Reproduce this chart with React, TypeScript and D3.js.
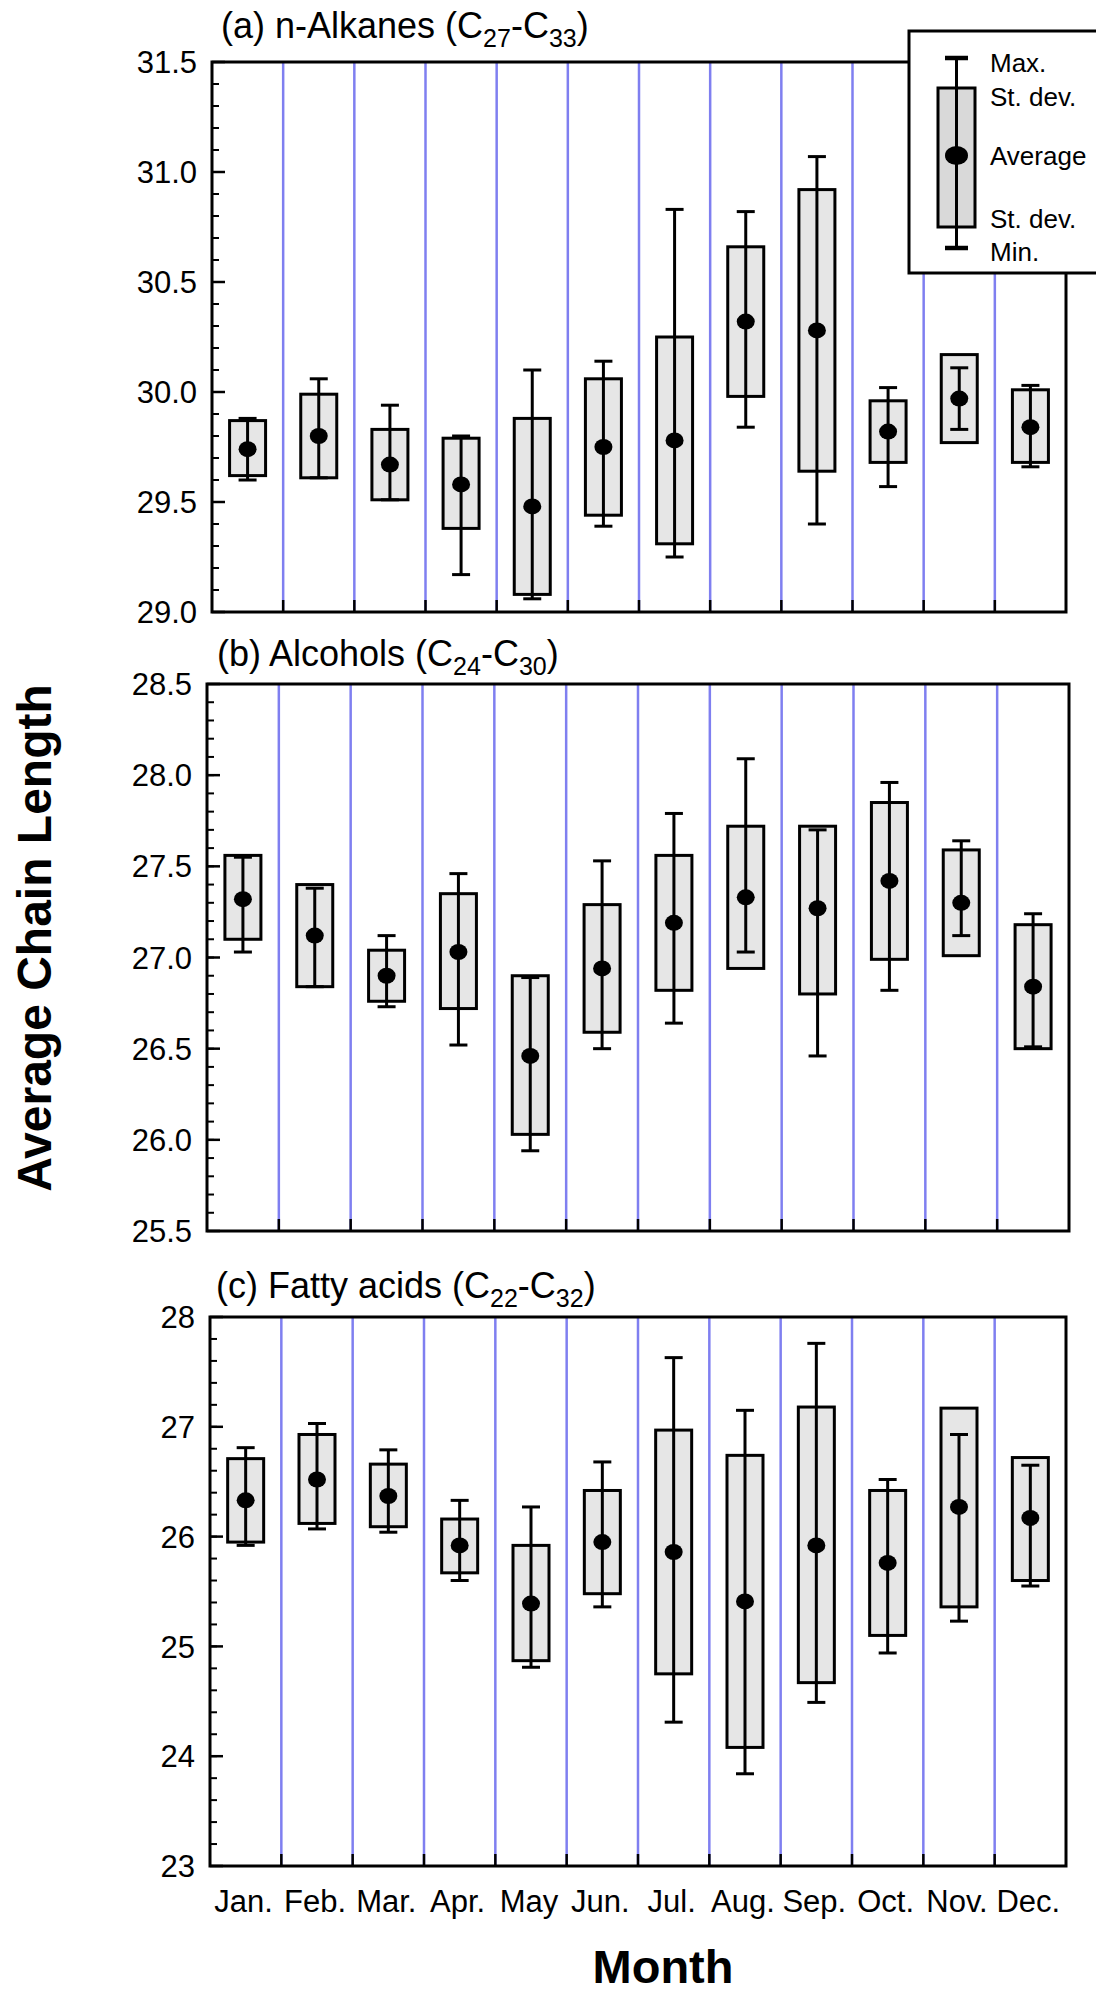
import React from 'react';
import * as d3 from 'd3';

// months on the x axis
const months = ['Jan.', 'Feb.', 'Mar.', 'Apr.', 'May', 'Jun.', 'Jul.', 'Aug.', 'Sep.', 'Oct.', 'Nov.', 'Dec.'];

// (a) n-Alkanes
const alkMean = [29.74, 29.80, 29.67, 29.58, 29.48, 29.75, 29.78, 30.32, 30.28, 29.82, 29.97, 29.84];
const alkSdHi = [29.87, 29.99, 29.83, 29.79, 29.88, 30.06, 30.25, 30.66, 30.92, 29.96, 30.17, 30.01];
const alkSdLo = [29.62, 29.61, 29.51, 29.38, 29.08, 29.44, 29.31, 29.98, 29.64, 29.68, 29.77, 29.68];
const alkMax = [29.88, 30.06, 29.94, 29.80, 30.10, 30.14, 30.83, 30.82, 31.07, 30.02, 30.11, 30.03];
const alkMin = [29.60, 29.61, 29.51, 29.17, 29.06, 29.39, 29.25, 29.84, 29.40, 29.57, 29.83, 29.66];

// (b) Alcohols
const alcMean = [27.32, 27.12, 26.90, 27.03, 26.46, 26.94, 27.19, 27.33, 27.27, 27.42, 27.30, 26.84];
const alcSdHi = [27.56, 27.40, 27.04, 27.35, 26.90, 27.29, 27.56, 27.72, 27.72, 27.85, 27.59, 27.18];
const alcSdLo = [27.10, 26.84, 26.76, 26.72, 26.03, 26.59, 26.82, 26.94, 26.80, 26.99, 27.01, 26.50];
const alcMax = [27.55, 27.38, 27.12, 27.46, 26.89, 27.53, 27.79, 28.09, 27.70, 27.96, 27.64, 27.24];
const alcMin = [27.03, 26.84, 26.73, 26.52, 25.94, 26.50, 26.64, 27.03, 26.46, 26.82, 27.12, 26.51];

// (c) Fatty acids
const faMean = [26.33, 26.52, 26.37, 25.92, 25.39, 25.95, 25.86, 25.41, 25.92, 25.76, 26.27, 26.17];
const faSdHi = [26.71, 26.93, 26.66, 26.16, 25.92, 26.42, 26.97, 26.74, 27.18, 26.42, 27.17, 26.72];
const faSdLo = [25.95, 26.12, 26.09, 25.67, 24.87, 25.48, 24.75, 24.08, 24.67, 25.10, 25.36, 25.60];
const faMax = [26.81, 27.03, 26.79, 26.33, 26.27, 26.68, 27.63, 27.15, 27.76, 26.52, 26.93, 26.65];
const faMin = [25.92, 26.07, 26.04, 25.60, 24.81, 25.36, 24.31, 23.84, 24.49, 24.94, 25.23, 25.55];

const FONT = '"Liberation Sans", Arial, Helvetica, sans-serif';
const BLUE = '#7f7ff0';
const BOX_FILL = '#e6e6e6';

interface PanelDef {
  label: string;
  sub1: string;
  sub2: string;
  domain: [number, number];
  major: number;
  minor: number;
  fmt: string;
  left: number;
  right: number;
  top: number;
  bottom: number;
  titleX: number;
  titleY: number;
  mean: number[];
  sdHi: number[];
  sdLo: number[];
  max: number[];
  min: number[];
}

const panels: PanelDef[] = [
  {
    label: '(a) n-Alkanes (C', sub1: '27', sub2: '33', domain: [29, 31.5], major: 0.5, minor: 0.1, fmt: '.1f',
    left: 212, right: 1066, top: 62, bottom: 612, titleX: 221, titleY: 38,
    mean: alkMean, sdHi: alkSdHi, sdLo: alkSdLo, max: alkMax, min: alkMin,
  },
  {
    label: '(b) Alcohols (C', sub1: '24', sub2: '30', domain: [25.5, 28.5], major: 0.5, minor: 0.1, fmt: '.1f',
    left: 207, right: 1069, top: 684, bottom: 1231, titleX: 217, titleY: 666,
    mean: alcMean, sdHi: alcSdHi, sdLo: alcSdLo, max: alcMax, min: alcMin,
  },
  {
    label: '(c) Fatty acids (C', sub1: '22', sub2: '32', domain: [23, 28], major: 1, minor: 0.2, fmt: 'd',
    left: 210, right: 1066, top: 1317, bottom: 1866, titleX: 216, titleY: 1298,
    mean: faMean, sdHi: faSdHi, sdLo: faSdLo, max: faMax, min: faMin,
  },
];

const BoxPanel: React.FC<{ p: PanelDef; showX: boolean }> = ({ p, showX }) => {
  const x = d3.scaleBand<string>().domain(months).range([p.left, p.right]).padding(0);
  const y = d3.scaleLinear().domain(p.domain).range([p.bottom, p.top]);
  const bw = x.bandwidth();
  const boxW = 36;
  const capW = 18;

  const nMinor = Math.round((p.domain[1] - p.domain[0]) / p.minor);
  const minorTicks = d3.range(nMinor + 1).map(i => p.domain[0] + i * p.minor);
  const nMajor = Math.round((p.domain[1] - p.domain[0]) / p.major);
  const majorTicks = d3.range(nMajor + 1).map(i => p.domain[0] + i * p.major);
  const fmt = d3.format(p.fmt);
  const bounds = months.slice(1).map(m => x(m)!);

  return (
    <g>
      {/* month separators */}
      {bounds.map((bx, i) => (
        <line key={'s' + i} x1={bx} x2={bx} y1={p.top} y2={p.bottom} stroke={BLUE} strokeWidth={2.5} />
      ))}
      {bounds.map((bx, i) => (
        <line key={'t' + i} x1={bx} x2={bx} y1={p.bottom - 12} y2={p.bottom} stroke="#000" strokeWidth={2.5} />
      ))}

      {/* y ticks */}
      {minorTicks.map((t, i) => (
        <line key={'mi' + i} x1={p.left} x2={p.left + 7} y1={y(t)} y2={y(t)} stroke="#000" strokeWidth={2} />
      ))}
      {majorTicks.map((t, i) => (
        <g key={'ma' + i}>
          <line x1={p.left} x2={p.left + 13} y1={y(t)} y2={y(t)} stroke="#000" strokeWidth={2.5} />
          <text x={p.left - 15} y={y(t)} dy="0.36em" textAnchor="end" fontSize={31} fontFamily={FONT} fill="#000">
            {fmt(t)}
          </text>
        </g>
      ))}

      {/* frame */}
      <rect x={p.left} y={p.top} width={p.right - p.left} height={p.bottom - p.top} fill="none" stroke="#000" strokeWidth={3} />

      {/* boxes */}
      {months.map((m, i) => {
        const cx = x(m)! + bw / 2;
        return (
          <g key={m}>
            <rect x={cx - boxW / 2} y={y(p.sdHi[i])} width={boxW} height={y(p.sdLo[i]) - y(p.sdHi[i])}
              fill={BOX_FILL} stroke="#000" strokeWidth={3} />
            <line x1={cx} x2={cx} y1={y(p.max[i])} y2={y(p.min[i])} stroke="#000" strokeWidth={3} />
            <line x1={cx - capW / 2} x2={cx + capW / 2} y1={y(p.max[i])} y2={y(p.max[i])} stroke="#000" strokeWidth={3} />
            <line x1={cx - capW / 2} x2={cx + capW / 2} y1={y(p.min[i])} y2={y(p.min[i])} stroke="#000" strokeWidth={3} />
            <ellipse cx={cx} cy={y(p.mean[i])} rx={9} ry={8} fill="#000" />
          </g>
        );
      })}

      {/* title */}
      <text x={p.titleX} y={p.titleY} fontSize={36} fontFamily={FONT} fill="#000">
        {p.label}
        <tspan fontSize={25} dy={9}>{p.sub1}</tspan>
        <tspan dy={-9}>-C</tspan>
        <tspan fontSize={25} dy={9}>{p.sub2}</tspan>
        <tspan dy={-9}>)</tspan>
      </text>

      {showX && months.map(m => (
        <text key={'xl' + m} x={x(m)! + bw / 2 - 2} y={1912} textAnchor="middle" fontSize={31} fontFamily={FONT} fill="#000">
          {m}
        </text>
      ))}
    </g>
  );
};

const Legend: React.FC = () => {
  const lx = 909, ly = 31;
  const cx = 956.5;
  return (
    <g>
      <rect x={lx} y={ly} width={200} height={242} fill="#fff" stroke="#000" strokeWidth={3} />
      <rect x={cx - 18.5} y={88} width={37} height={139} fill="#d9d9d9" stroke="#000" strokeWidth={3} />
      <line x1={cx} x2={cx} y1={58} y2={248} stroke="#000" strokeWidth={3} />
      <line x1={cx - 11.5} x2={cx + 11.5} y1={58} y2={58} stroke="#000" strokeWidth={4.5} />
      <line x1={cx - 11.5} x2={cx + 11.5} y1={248} y2={248} stroke="#000" strokeWidth={4.5} />
      <ellipse cx={cx} cy={155.5} rx={11.5} ry={9.5} fill="#000" />
      {[
        ['Max.', 72], ['St. dev.', 106], ['Average', 165], ['St. dev.', 228], ['Min.', 261],
      ].map(([t, yy], i) => (
        <text key={i} x={990} y={yy as number} fontSize={26} fontFamily={FONT} fill="#000">{t}</text>
      ))}
    </g>
  );
};

export default function App() {
  return (
    <svg width={1096} height={1995} viewBox="0 0 1096 1995"
      style={{ position: 'absolute', left: 0, top: 0, display: 'block', background: '#fff' }}>
      <rect width={1096} height={1995} fill="#fff" />
      {panels.map((p, i) => (
        <BoxPanel key={i} p={p} showX={i === panels.length - 1} />
      ))}
      <Legend />
      <text transform="translate(51,938) rotate(-90)" textAnchor="middle" fontSize={48} fontWeight="bold"
        fontFamily={FONT} fill="#000">
        Average Chain Length
      </text>
      <text x={663} y={1983} textAnchor="middle" fontSize={47} fontWeight="bold" fontFamily={FONT} fill="#000">
        Month
      </text>
    </svg>
  );
}
